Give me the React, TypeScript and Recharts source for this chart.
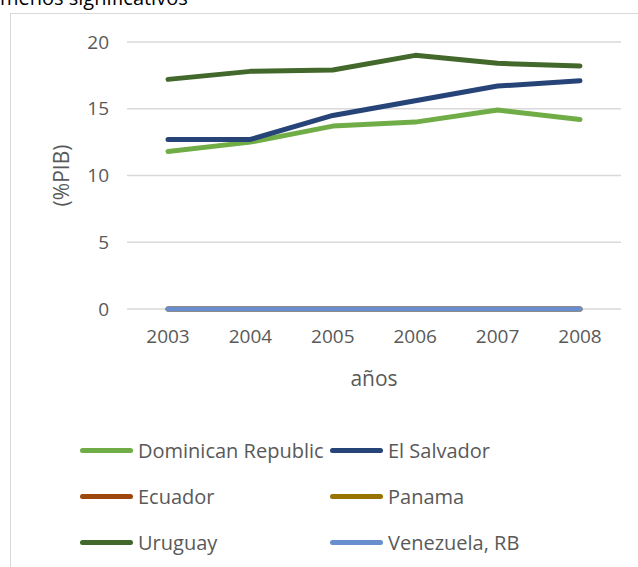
import { LineChart, Line, XAxis, YAxis, CartesianGrid, Label } from "recharts";

const YEARS = ["2003", "2004", "2005", "2006", "2007", "2008"];
const DOMINICAN = [11.8, 12.5, 13.7, 14.0, 14.9, 14.2];
const EL_SALVADOR = [12.7, 12.7, 14.5, 15.6, 16.7, 17.1];
const ECUADOR = [0, 0, 0, 0, 0, 0];
const PANAMA = [0, 0, 0, 0, 0, 0];
const URUGUAY = [17.2, 17.8, 17.9, 19.0, 18.4, 18.2];
const VENEZUELA = [0, 0, 0, 0, 0, 0];
const Y_TICKS = [0, 5, 10, 15, 20];

const SERIES = [
  { key: "dom", name: "Dominican Republic", color: "#70AD47", values: DOMINICAN },
  { key: "slv", name: "El Salvador", color: "#264478", values: EL_SALVADOR },
  { key: "ecu", name: "Ecuador", color: "#9E480E", values: ECUADOR },
  { key: "pan", name: "Panama", color: "#997300", values: PANAMA },
  { key: "ury", name: "Uruguay", color: "#43682B", values: URUGUAY },
  { key: "ven", name: "Venezuela, RB", color: "#698ED0", values: VENEZUELA },
];

const data = YEARS.map((year, i) => {
  const row: Record<string, string | number> = { year };
  SERIES.forEach((s) => (row[s.key] = s.values[i]));
  return row;
});

const FONT = "'Open Sans', 'Noto Sans', sans-serif";
const TEXT = "#595959";

export default function App() {
  return (
    <div
      style={{
        position: "absolute",
        left: 0,
        top: 0,
        width: 638,
        height: 567,
        overflow: "hidden",
        background: "#fff",
        fontFamily: FONT,
      }}
    >
      <div
        style={{
          position: "absolute",
          left: 0,
          top: -16,
          fontSize: 20,
          color: "#000",
          whiteSpace: "nowrap",
        }}
      >
        menos significativos
      </div>
      <div
        style={{
          position: "absolute",
          left: 10,
          top: 13,
          width: 700,
          height: 600,
          border: "1px solid #D9D9D9",
        }}
      />
      <div style={{ position: "absolute", left: 0, top: 0 }}>
        <LineChart
          width={638}
          height={567}
          data={data}
          margin={{ top: 42, right: 17, left: 87, bottom: 198 }}
        >
          <CartesianGrid vertical={false} stroke="#D9D9D9" strokeWidth={1.3} />
          <XAxis
            dataKey="year"
            axisLine={false}
            tickLine={false}
            tickSize={0}
            tickMargin={21}
            height={60}
            padding={{ left: 41, right: 41 }}
            tick={{ fill: TEXT, fontSize: 19, fontFamily: FONT }}
          >
            <Label
              value="años"
              position="insideTop"
              offset={62}
              fill={TEXT}
              fontSize={21}
              fontFamily={FONT}
            />
          </XAxis>
          <YAxis
            domain={[0, 20]}
            ticks={Y_TICKS}
            axisLine={false}
            tickLine={false}
            tickSize={0}
            tickMargin={18}
            width={40}
            tick={{ fill: TEXT, fontSize: 19, fontFamily: FONT }}
          >
            <Label
              value="(%PIB)"
              angle={-90}
              position="center"
              dx={-45}
              fill={TEXT}
              fontSize={21}
              fontFamily={FONT}
            />
          </YAxis>
          {SERIES.map((s) => (
            <Line
              key={s.key}
              dataKey={s.key}
              name={s.name}
              stroke={s.color}
              strokeWidth={5}
              strokeLinecap="round"
              strokeLinejoin="round"
              dot={false}
              activeDot={false}
              isAnimationActive={false}
            />
          ))}
        </LineChart>
      </div>
      <div
        style={{
          position: "absolute",
          left: 80,
          top: 436,
          display: "grid",
          gridTemplateColumns: "250px 250px",
          rowGap: 18,
          fontSize: 20,
          color: TEXT,
        }}
      >
        {SERIES.map((s) => (
          <div key={s.key} style={{ display: "flex", alignItems: "center", height: 28 }}>
            <span
              style={{
                display: "inline-block",
                width: 53,
                height: 5,
                borderRadius: 3,
                background: s.color,
                marginRight: 5,
                flexShrink: 0,
              }}
            />
            <span style={{ whiteSpace: "nowrap" }}>{s.name}</span>
          </div>
        ))}
      </div>
    </div>
  );
}
